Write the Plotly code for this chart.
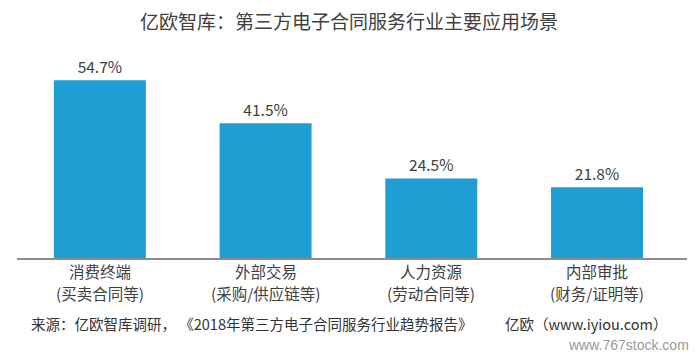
import plotly.graph_objects as go

categories = ["消费终端", "外部交易", "人力资源", "内部审批"]
subtitles = ["(买卖合同等)", "(采购/供应链等)", "(劳动合同等)", "(财务/证明等)"]
values = [54.7, 41.5, 24.5, 21.8]
labels = ["54.7%", "41.5%", "24.5%", "21.8%"]

title = "亿欧智库：第三方电子合同服务行业主要应用场景"
source = "来源：亿欧智库调研， 《2018年第三方电子合同服务行业趋势报告》          亿欧（www.iyiou.com）"
watermark = "www.767stock.com"

FONT = "Microsoft YaHei, Noto Sans CJK SC, sans-serif"

# page body has an 8px margin, so the figure is drawn 8px smaller and offset
W, H = 691, 349
L, T, R, B = 9, 32, 12, 99
PW, PH = W - L - R, H - T - B

fig = go.Figure(go.Bar(
    x=categories, y=values, text=labels, textposition="outside",
    marker=dict(color="#1e9ed3", line=dict(width=0)),
    textfont=dict(size=15.5, color="#404040", family=FONT),
    cliponaxis=False,
))

annotations = []
for cat, sub in zip(categories, subtitles):
    annotations.append(dict(text=cat, x=cat, xref="x", y=(250 - 263) / PH, yref="paper",
                            showarrow=False, borderpad=0,
                            font=dict(size=15.5, color="#404040", family=FONT),
                            xanchor="center", yanchor="middle"))
    annotations.append(dict(text=sub, x=cat, xref="x", y=(250 - 285) / PH, yref="paper",
                            showarrow=False, borderpad=0,
                            font=dict(size=15.5, color="#404040", family=FONT),
                            xanchor="center", yanchor="middle"))

annotations += [
    dict(text=source, x=(21 - L) / PW, y=(250 - 315) / PH, xref="paper", yref="paper",
         showarrow=False, font=dict(size=14.5, color="#333333", family=FONT),
         xanchor="left", yanchor="middle"),
    dict(text=watermark, x=(683 - L) / PW, y=(250 - 337) / PH, xref="paper", yref="paper",
         showarrow=False, font=dict(size=14, color="#999999", family="Liberation Sans, sans-serif"),
         xanchor="right", yanchor="middle"),
]

fig.update_layout(
    width=W, height=H,
    margin=dict(l=L, r=R, t=T, b=B),
    paper_bgcolor="white", plot_bgcolor="white",
    bargap=0.445,
    showlegend=False,
    font=dict(family=FONT, color="#404040"),
    title=dict(text=title, x=341 / W, xanchor="center", y=1 - 14 / H, yanchor="middle",
               font=dict(size=19, color="#404040", family=FONT)),
    xaxis=dict(showgrid=False, showline=True, linecolor="#8c8c8c", linewidth=2,
               ticks="", showticklabels=False, range=[-0.5, 3.543]),
    yaxis=dict(visible=False, range=[0, 67.08]),
    annotations=annotations,
)

fig.write_html("out.html")
